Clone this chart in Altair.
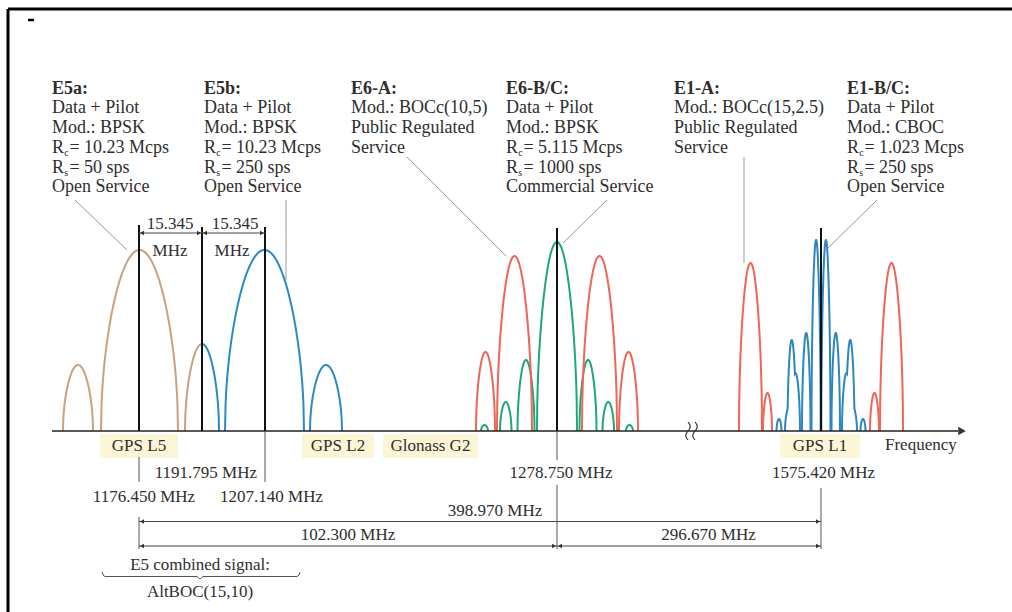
import numpy as np
import pandas as pd
import altair as alt

W, H = 1012, 612
BASE = 431  # y of the frequency axis line (diagram units, y grows downward)
SERIF = "Liberation Serif"
INK = "#2e2e2e"

# ---- carriers on the (broken) frequency axis --------------------------------
carrier_mhz = [1176.450, 1191.795, 1207.140, 1278.750, 1575.420]
carrier_pos = [139, 202, 265, 557, 821]
E5A, E5, E5B, E6, E1 = carrier_pos

# ---- spectral lobes ----------------------------------------------------------
# E5 AltBOC lobes: (start, end, height, part drawn)
e5a_lobes = [(63, 93, 66, "full"), (101, 178, 181, "full"), (185, 219, 87, "left")]
e5b_lobes = [(185, 219, 87, "right"), (225, 304, 181, "full"), (310, 342, 66, "full")]
# symmetric signals: groups of arches (inner offset, outer offset, height),
# mirrored on both sides of the carrier
e6bc_main = [(-20, 20, 189)]
e6bc_side = [[(22.5, 39.5, 71)], [(45.5, 57, 29)], [(69, 76, 6)]]
e6a_side = [[(25, 60, 175)], [(62, 81, 79)]]
e1a_side = [[(49, 58, 38)], [(59, 82, 168)]]
e1bc_side = [[(0.3, 9.5, 191)], [(10.5, 19, 98)],
             [(21, 36, 31), (25, 33.5, 91), (21, 30, 58)], [(39.5, 44.5, 12)]]

COL_E5A = "#C9A27F"
COL_E5B = "#2A8AC8"
COL_E6A = "#EF6558"
COL_E6BC = "#1DA878"
COL_E1A = "#EF6558"
COL_E1BC = "#2D86C2"


def envelope(arches, n=140):
    lo = min(a for a, b, h in arches)
    hi = max(b for a, b, h in arches)
    xs = np.linspace(lo, hi, n)
    ys = np.zeros_like(xs)
    for a, b, h in arches:
        t = (xs - a) / (b - a)
        s = np.sin(np.pi * np.clip(t, 0, 1))
        ys = np.maximum(ys, h * np.sqrt(np.clip(s, 0, None)))
    return xs, ys


rows = []
lid = [0]


def add_curve(xs, ys, color):
    lid[0] += 1
    for i, (xv, yv) in enumerate(zip(xs, ys)):
        rows.append(dict(x=float(xv), y=float(BASE - yv), id=lid[0], o=i, c=color))


for lobes, col in [(e5a_lobes, COL_E5A), (e5b_lobes, COL_E5B)]:
    for a, b, h, part in lobes:
        xs, ys = envelope([(a, b, h)])
        mid = (a + b) / 2
        if part == "left":
            keep = xs <= mid + 0.01
        elif part == "right":
            keep = xs >= mid - 0.01
        else:
            keep = np.ones_like(xs, dtype=bool)
        add_curve(xs[keep], ys[keep], col)

xs, ys = envelope(e6bc_main)
add_curve(E6 + xs, ys, COL_E6BC)
for centre, groups, col in [(E6, e6bc_side, COL_E6BC), (E6, e6a_side, COL_E6A),
                            (E1, e1a_side, COL_E1A), (E1, e1bc_side, COL_E1BC)]:
    for g in groups:
        xs, ys = envelope(g)
        add_curve(centre + xs, ys, col)
        add_curve(centre - xs, ys, col)

lobes_df = pd.DataFrame(rows)

# ---- scales --------------------------------------------------------------------
xs_ = alt.Scale(domain=[0, W], nice=False, zero=False)
ys_ = alt.Scale(domain=[0, H], nice=False, zero=False, reverse=True)
X = lambda f="x": alt.X(f"{f}:Q", scale=xs_, axis=None)
Y = lambda f="y": alt.Y(f"{f}:Q", scale=ys_, axis=None)

lobes_layer = alt.Chart(lobes_df).mark_line(strokeWidth=2).encode(
    x=X(), y=Y(), detail="id:N", order="o:Q",
    color=alt.Color("c:N", scale=None))

# ---- straight strokes: (x, x2, y, y2, colour, width) --------------------------
segments = [
    # frame and small mark
    (8, W, 9, 9, "#000000", 3), (8, 8, 9, H, "#000000", 3),
    (28, 34, 20, 20, "#000000", 2.5),
    # frequency axis
    (52, 958, BASE, BASE, "#222222", 1.6),
    # carrier markers
    (E5A, E5A, 225, BASE, "#111111", 2), (E5, E5, 227, BASE, "#111111", 2),
    (E5B, E5B, 227, BASE, "#111111", 2), (E6, E6, 228, BASE, "#111111", 2),
    (E1, E1, 228, BASE, "#111111", 2),
    (E5A, E5A, 457, 482, "#555555", 1), (E5A, E5A, 517, 549, "#555555", 1),
    (E5B, E5B, BASE, 482, "#555555", 1),
    (E6, E6, BASE, 460, "#555555", 1), (E6, E6, 485, 549, "#555555", 1),
    (E1, E1, 488, 549, "#555555", 1),
    # callout leaders
    (75, 127, 200, 250, "#9a9a9a", 1), (286, 286, 200, 280, "#9a9a9a", 1),
    (407, 506, 157, 256, "#9a9a9a", 1), (607, 563, 200, 243, "#9a9a9a", 1),
    (744, 744, 157, 263, "#9a9a9a", 1), (877, 828, 200, 248, "#9a9a9a", 1),
]
# dimension lines: (from, to, y)
dims = [(E5A, E5, 233), (E5, E5B, 233), (E5A, E1, 521.5), (E5A, E6, 546), (E6, E1, 546)]
for a, b, yy in dims:
    segments.append((a, b, yy, yy, "#444444", 1))

seg_df = pd.DataFrame(segments, columns=["x", "x2", "y", "y2", "c", "w"])
seg_layer = alt.Chart(seg_df).mark_rule(strokeCap="butt").encode(
    x=X(), x2="x2:Q", y=Y(), y2="y2:Q",
    color=alt.Color("c:N", scale=None),
    strokeWidth=alt.StrokeWidth("w:Q", scale=None))

# arrowheads
heads = []
for a, b, yy in dims:
    heads.append((a + 3, yy, "triangle-left", 22))
    heads.append((b - 3, yy, "triangle-right", 22))
heads.append((962, BASE, "triangle-right", 75))
head_df = pd.DataFrame(heads, columns=["x", "y", "shape", "s"])
head_layer = alt.Chart(head_df).mark_point(filled=True, opacity=1, color="#333333").encode(
    x=X(), y=Y(), shape=alt.Shape("shape:N", scale=None),
    size=alt.Size("s:Q", scale=None))

# axis break mark
brk = []
for k, cx in enumerate([688, 695]):
    for i, s in enumerate(np.linspace(0, 1, 25)):
        brk.append(dict(x=cx + 2.2 * np.sin(2 * np.pi * s), y=422 + 18 * s, id=k, o=i))
brk_layer = alt.Chart(pd.DataFrame(brk)).mark_line(strokeWidth=1.2, color="#333333").encode(
    x=X(), y=Y(), detail="id:N", order="o:Q")

# brace under the E5 band
brace_pts = [(102, 572), (103, 575), (105, 576.5), (197, 576.5), (200, 579),
             (203, 576.5), (297, 576.5), (299, 575), (300, 572)]
brace_df = pd.DataFrame([dict(x=p[0], y=p[1], o=i) for i, p in enumerate(brace_pts)])
brace_layer = alt.Chart(brace_df).mark_line(strokeWidth=1, color="#555555").encode(
    x=X(), y=Y(), order="o:Q")

# ---- band labels on highlighted patches ----------------------------------------
band_names = ["GPS L5", "GPS L2", "Glonass G2", "GPS L1"]
band_left = [100, 302, 383, 780]
band_right = [178, 374, 478, 860]
band_df = pd.DataFrame(dict(t=band_names, x=band_left, x2=band_right,
                            xc=[(a + b) / 2 for a, b in zip(band_left, band_right)]))
band_df["y"] = 434
band_df["y2"] = 458
band_df["yc"] = 451
patch_layer = alt.Chart(band_df).mark_rect(color="#FCF5D6").encode(
    x=X(), x2="x2:Q", y=Y(), y2="y2:Q")
band_text = alt.Chart(band_df).mark_text(font=SERIF, fontSize=17, color=INK,
                                         align="center", baseline="alphabetic").encode(
    x=X("xc"), y=Y("yc"), text="t:N")

# ---- free labels ------------------------------------------------------------------
def text_layer(items, **kw):
    df = pd.DataFrame(items, columns=["x", "y", "t"])
    return alt.Chart(df).mark_text(font=SERIF, color=INK, baseline="alphabetic", **kw).encode(
        x=X(), y=Y(), text="t:N")

centre_labels = [
    (170, 229, "15.345"), (235, 229, "15.345"), (170, 256, "MHz"), (232, 256, "MHz"),
    (144, 502, "1176.450 MHz"), (271.5, 502, "1207.140 MHz"),
    (561, 478, "1278.750 MHz"), (823.5, 478, "1575.420 MHz"),
    (495, 516, "398.970 MHz"), (348, 540, "102.300 MHz"), (708.5, 540, "296.670 MHz"),
    (200, 570, "E5 combined signal:"), (200, 597, "AltBOC(15,10)"),
]
right_labels = [(257, 478, "1191.795 MHz")]
left_labels = [(885, 450, "Frequency")]

# ---- signal description blocks -------------------------------------------------------
block_x = [52, 204, 351, 506, 674, 847]
block_titles = ["E5a:", "E5b:", "E6-A:", "E6-B/C:", "E1-A:", "E1-B/C:"]
block_lines = [
    ["Data + Pilot", "Mod.: BPSK", ("c", "= 10.23 Mcps"), ("s", "= 50 sps"), "Open Service"],
    ["Data + Pilot", "Mod.: BPSK", ("c", "= 10.23 Mcps"), ("s", "= 250 sps"), "Open Service"],
    ["Mod.: BOCc(10,5)", "Public Regulated", "Service"],
    ["Data + Pilot", "Mod.: BPSK", ("c", "= 5.115 Mcps"), ("s", "= 1000 sps"), "Commercial Service"],
    ["Mod.: BOCc(15,2.5)", "Public Regulated", "Service"],
    ["Data + Pilot", "Mod.: CBOC", ("c", "= 1.023 Mcps"), ("s", "= 250 sps"), "Open Service"],
]
title_y = 94
line_y = [113, 133, 153, 172.5, 192]

titles, body, subs = [], [], []
for bx, tt, lines in zip(block_x, block_titles, block_lines):
    titles.append((bx, title_y, tt))
    for ly, ln in zip(line_y, lines):
        if isinstance(ln, tuple):
            body.append((bx, ly, "R"))
            subs.append((bx + 12.2, ly + 3.2, ln[0]))
            body.append((bx + 17.4, ly, ln[1]))
        else:
            body.append((bx, ly, ln))

layers = [
    patch_layer, lobes_layer, seg_layer, head_layer, brk_layer, brace_layer, band_text,
    text_layer(centre_labels, fontSize=17, align="center"),
    text_layer(right_labels, fontSize=17, align="right"),
    text_layer(left_labels, fontSize=17, align="left"),
    text_layer(titles, fontSize=18, fontWeight="bold", align="left"),
    text_layer(body, fontSize=18, align="left"),
    text_layer(subs, fontSize=10, align="left"),
]

chart = alt.layer(*layers).properties(
    width=W, height=H, padding=0, autosize=alt.AutoSizeParams(type="none"),
    background="white",
).configure_view(stroke=None)

chart.save("out.html", embed_options={"renderer": "svg", "actions": False})
